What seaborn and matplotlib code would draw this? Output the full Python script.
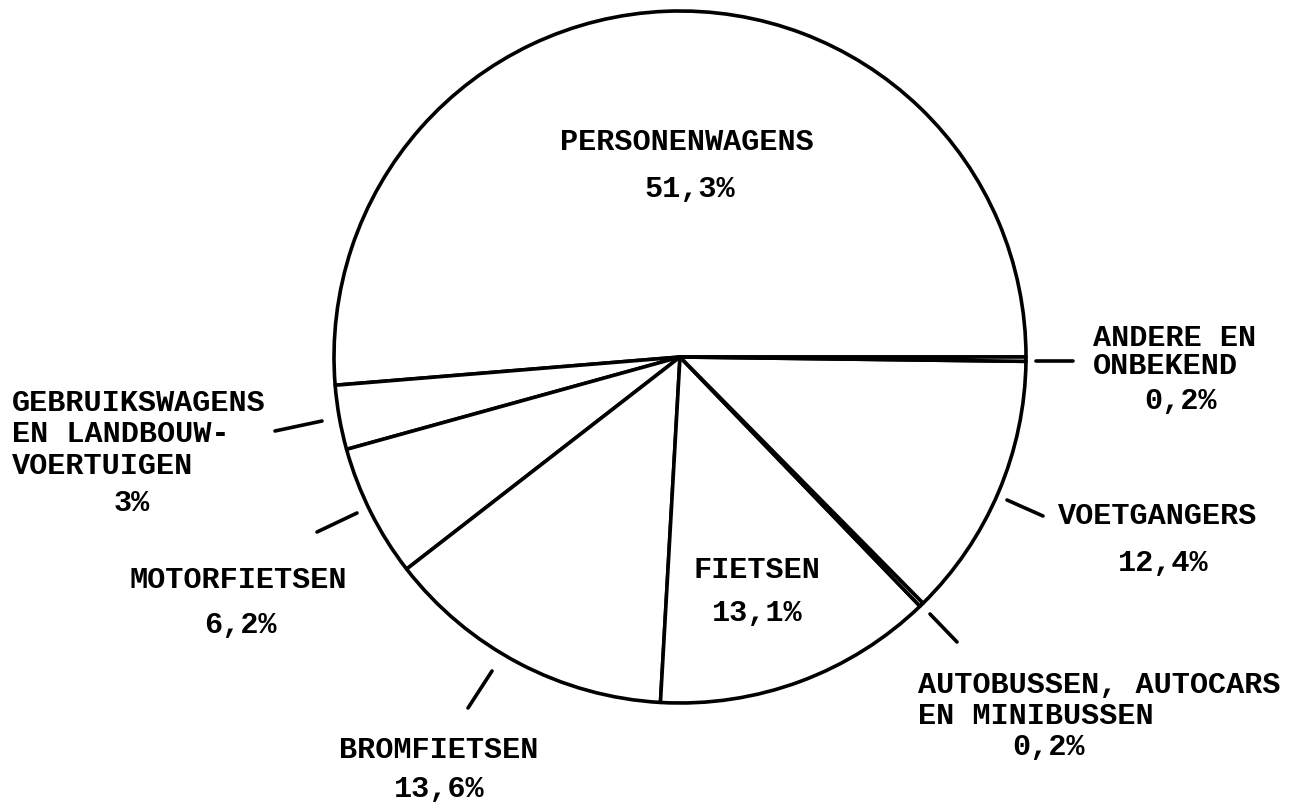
import matplotlib
matplotlib.use("Agg")
import matplotlib.pyplot as plt
import seaborn as sns

# ---- data ----
categories = ["PERSONENWAGENS", "GEBRUIKSWAGENS EN LANDBOUWVOERTUIGEN", "MOTORFIETSEN",
              "BROMFIETSEN", "FIETSEN", "AUTOBUSSEN, AUTOCARS EN MINIBUSSEN",
              "VOETGANGERS", "ANDERE EN ONBEKEND"]
values = [51.3, 3.0, 6.2, 13.6, 13.1, 0.2, 12.4, 0.2]
pct_labels = ["51,3%", "3%", "6,2%", "13,6%", "13,1%", "0,2%", "12,4%", "0,2%"]

sns.set_theme(style="white")
plt.rcParams["font.family"] = ["Liberation Mono", "DejaVu Sans Mono"]

W, H = 1303, 809
CX, CY, R = 680, 357, 346

fig = plt.figure(figsize=(W / 100, H / 100), dpi=100)
ax = fig.add_axes([0, 0, 1, 1])

ax.pie(values, colors=["white"] * len(values), startangle=0, counterclock=True,
       radius=1.0, center=(0, 0),
       wedgeprops=dict(edgecolor="black", linewidth=2.6, joinstyle="round"))

ax.set_xlim(-CX / R, (W - CX) / R)
ax.set_ylim(-(H - CY) / R, CY / R)
ax.set_aspect("equal", adjustable="box")
ax.axis("off")


def P(px, py):
    return (px - CX) / R, (CY - py) / R


FS = 21.8
CAP = 8.5  # half cap height in px


def txt(s, px, py, ha="center"):
    x, y = P(px, py + CAP)
    ax.text(x, y, s, ha=ha, va="baseline", fontsize=FS, fontweight="bold",
            family=["Liberation Mono", "DejaVu Sans Mono"], color="black")


def leader(p1, p2):
    (x1, y1), (x2, y2) = P(*p1), P(*p2)
    ax.plot([x1, x2], [y1, y2], color="black", lw=2.6, solid_capstyle="round")


# PERSONENWAGENS
txt(categories[0], 687, 142)
txt(pct_labels[0], 690, 188)

# GEBRUIKSWAGENS
txt("GEBRUIKSWAGENS", 12, 402, ha="left")
txt("EN LANDBOUW-", 12, 433, ha="left")
txt("VOERTUIGEN", 12, 465, ha="left")
txt(pct_labels[1], 132, 502)
leader((275, 431), (322, 421))

# MOTORFIETSEN
txt(categories[2], 238, 579)
txt(pct_labels[2], 240, 625)
leader((317, 532), (357, 513))

# BROMFIETSEN
txt(categories[3], 439, 750)
txt(pct_labels[3], 439, 788)
leader((468, 708), (492, 671))

# FIETSEN
txt(categories[4], 757, 570)
txt(pct_labels[4], 757, 612)

# AUTOBUSSEN
txt("AUTOBUSSEN, AUTOCARS", 918, 685, ha="left")
txt("EN MINIBUSSEN", 918, 715, ha="left")
txt(pct_labels[5], 1048, 746)
leader((930, 614), (957, 642))

# VOETGANGERS
txt(categories[6], 1058, 515, ha="left")
txt(pct_labels[6], 1163, 563)
leader((1007, 500), (1043, 516))

# ANDERE EN ONBEKEND
txt("ANDERE EN", 1093, 337, ha="left")
txt("ONBEKEND", 1093, 365, ha="left")
txt(pct_labels[7], 1181, 400)
leader((1036, 361), (1073, 361))

fig.savefig("out.png", dpi=100, facecolor="white")
